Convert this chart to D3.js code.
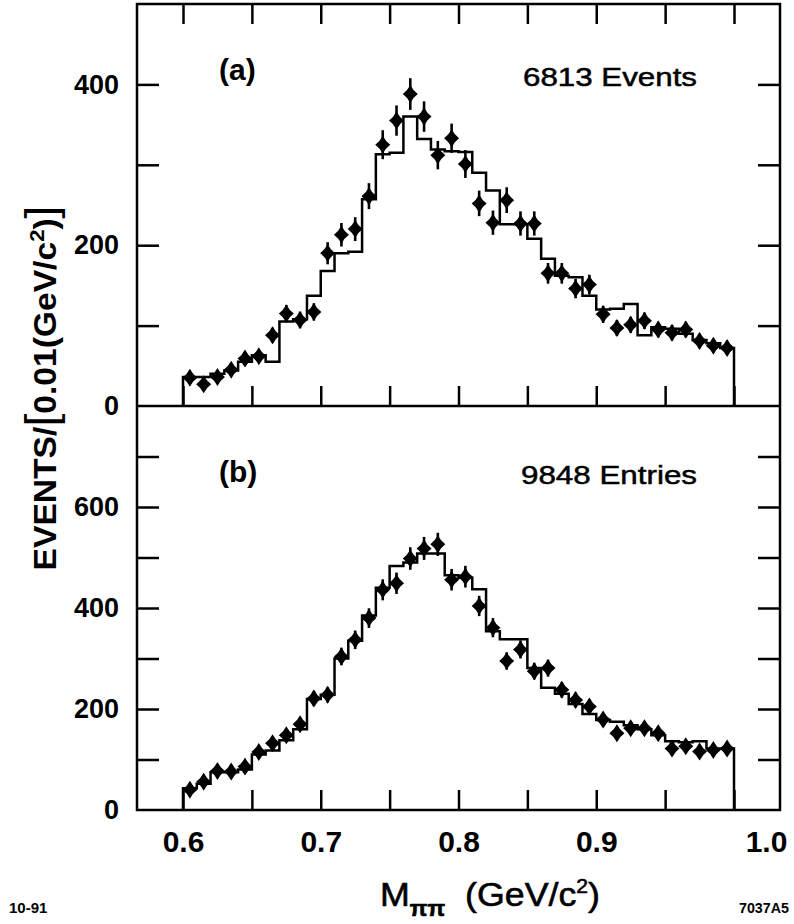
<!DOCTYPE html>
<html>
<head>
<meta charset="utf-8">
<script src="https://cdn.jsdelivr.net/npm/d3@7"></script>
<style>
body{margin:0;background:#fff}
svg{display:block}
text{font-family:"Liberation Sans",Arial,Helvetica,sans-serif;fill:#000}
</style>
</head>
<body>
<div id="chart"></div>
<script>

/****** data: 0.01 GeV/c^2 bins from 0.60 to 1.00 ******/
var binLow = [0.60,0.61,0.62,0.63,0.64,0.65,0.66,0.67,0.68,0.69,
              0.70,0.71,0.72,0.73,0.74,0.75,0.76,0.77,0.78,0.79,
              0.80,0.81,0.82,0.83,0.84,0.85,0.86,0.87,0.88,0.89,
              0.90,0.91,0.92,0.93,0.94,0.95,0.96,0.97,0.98,0.99];

// panel (a) data points and histogram
var eventsA = [35,27,36,45,59,62,88,115,107,117,
               190,213,220,261,325,355,388,360,312,333,
               301,252,228,256,227,227,165,165,146,151,
               114,97,101,106,95,91,95,81,75,72];
var histA = [36,36,40,44,55,63,55,105,108,137,
             168,190,192,257,313,315,360,332,319,317,
             316,290,268,226,226,208,183,162,160,137,
             120,121,127,88,98,96,90,82,78,72];

// panel (b)
var entriesB = [40,56,77,76,86,115,132,148,170,221,
                228,304,337,380,436,449,498,518,526,456,
                462,404,361,295,318,275,281,238,218,205,
                179,152,162,162,152,122,126,116,119,122];
var histB = [43,52,75,75,80,110,118,138,160,220,
             228,300,335,385,440,483,490,508,508,465,
             460,437,354,338,338,281,242,230,210,190,
             178,175,168,160,148,136,134,136,122,122];

var xTicks = [0.6,0.65,0.7,0.75,0.8,0.85,0.9,0.95,1.0];
var xLabels = [0.6,0.7,0.8,0.9,1.0];
var yTicksA = [100,200,300,400];
var yLabelsA = [0,200,400];
var yTicksB = [100,200,300,400,500,600,700];
var yLabelsB = [0,200,400,600];

/****** layout ******/
var W = 794, H = 924;
var frameL = 137, frameR = 780, frameT = 4, frameM = 406, frameB = 810;
var lw = 2.5;

var x = d3.scaleLinear().domain([0.6,1.0]).range([183,734]);
var yA = d3.scaleLinear().domain([0,500]).range([frameM,frameT]);
var yB = d3.scaleLinear().domain([0,800]).range([frameB,frameM]);
var binW = 0.01;

var svg = d3.select("#chart").append("svg")
    .attr("width", W)
    .attr("height", H);

// diamond marker, slightly pinched sides
var diamond = {
    draw: function(ctx, size) {
        var w = 7.5, h = 9, c = 2.8, d = 3.4;
        ctx.moveTo(0,-h);
        ctx.quadraticCurveTo(c,-d,w,0);
        ctx.quadraticCurveTo(c,d,0,h);
        ctx.quadraticCurveTo(-c,d,-w,0);
        ctx.quadraticCurveTo(-c,-d,0,-h);
        ctx.closePath();
    }
};

function tickStyle(g) {
    g.select(".domain").remove();
    g.selectAll(".tick line").attr("stroke","#000").attr("stroke-width",lw);
}

function drawPanel(y, pts, hist, yTicks, yLabels, topTicks) {
    var g = svg.append("g");

    // histogram (step line)
    var steps = [[binLow[0],0]];
    binLow.forEach(function(b,i){ steps.push([b,hist[i]]); });
    steps.push([x.domain()[1], hist[hist.length-1]]);
    steps.push([x.domain()[1], 0]);
    var line = d3.line()
        .x(function(d){return x(d[0]);})
        .y(function(d){return y(d[1]);})
        .curve(d3.curveStepAfter);
    g.append("path")
        .attr("d", line(steps))
        .attr("fill","none")
        .attr("stroke","#000")
        .attr("stroke-width",lw)
        .attr("stroke-linejoin","miter");

    // error bars
    g.selectAll(".err").data(pts).enter().append("line")
        .attr("class","err")
        .attr("x1", function(d,i){return x(binLow[i]+binW/2);})
        .attr("x2", function(d,i){return x(binLow[i]+binW/2);})
        .attr("y1", function(d){return y(d+Math.sqrt(d));})
        .attr("y2", function(d){return y(d-Math.sqrt(d));})
        .attr("stroke","#000")
        .attr("stroke-width",2.6);

    // points
    g.selectAll(".pt").data(pts).enter().append("path")
        .attr("class","pt")
        .attr("d", d3.symbol().type(diamond)())
        .attr("transform", function(d,i){
            return "translate(" + x(binLow[i]+binW/2) + "," + y(d) + ")";
        })
        .attr("fill","#000");

    // inward ticks
    svg.append("g").attr("transform","translate("+frameL+",0)")
        .call(d3.axisLeft(y).tickValues(yTicks).tickSize(-22).tickFormat(""))
        .call(tickStyle);
    svg.append("g").attr("transform","translate("+frameR+",0)")
        .call(d3.axisRight(y).tickValues(yTicks).tickSize(-22).tickFormat(""))
        .call(tickStyle);
    svg.append("g").attr("transform","translate(0,"+y.range()[0]+")")
        .call(d3.axisBottom(x).tickValues(xTicks).tickSize(-20).tickFormat(""))
        .call(tickStyle);
    if (topTicks) {
        svg.append("g").attr("transform","translate(0,"+y.range()[1]+")")
            .call(d3.axisTop(x).tickValues(xTicks).tickSize(-20).tickFormat(""))
            .call(tickStyle);
    }

    // y labels
    var ax = svg.append("g").attr("transform","translate("+frameL+",0)")
        .call(d3.axisLeft(y).tickValues(yLabels).tickSize(0).tickPadding(18));
    ax.select(".domain").remove();
    ax.selectAll("text")
        .attr("font-family",null)
        .style("font-size","27px")
        .style("font-weight","bold");
}

drawPanel(yA, eventsA, histA, yTicksA, yLabelsA, true);
drawPanel(yB, entriesB, histB, yTicksB, yLabelsB, false);

// frame
svg.append("rect")
    .attr("x",frameL).attr("y",frameT)
    .attr("width",frameR-frameL).attr("height",frameB-frameT)
    .attr("fill","none").attr("stroke","#000").attr("stroke-width",lw);
svg.append("line")
    .attr("x1",frameL).attr("x2",frameR).attr("y1",frameM).attr("y2",frameM)
    .attr("stroke","#000").attr("stroke-width",lw);

// x labels
var xa = svg.append("g").attr("transform","translate(0,"+frameB+")")
    .call(d3.axisBottom(x).tickValues(xLabels).tickSize(0).tickPadding(21)
        .tickFormat(d3.format(".1f")));
xa.select(".domain").remove();
xa.selectAll("text")
    .attr("font-family",null)
    .style("font-size","30px")
    .style("font-weight","bold");
// the 1.0 label sits right of its tick in the original
xa.selectAll("text").filter(function(d){return d===1.0;}).attr("x",32);

// panel annotations
function note(txt, px, py, size, weight, len) {
    var t = svg.append("text")
        .attr("x",px).attr("y",py)
        .style("font-size",size+"px")
        .style("font-weight",weight)
        .text(txt);
    if (len) t.attr("textLength",len).attr("lengthAdjust","spacingAndGlyphs");
    return t;
}
note("(a)", 219, 80, 30, "bold");
note("(b)", 219, 482, 30, "bold");
note("6813 Events", 523, 86, 26, "normal", 174).attr("stroke","#000").attr("stroke-width",0.5);
note("9848 Entries", 521, 484, 26, "normal", 176).attr("stroke","#000").attr("stroke-width",0.5);
note("10-91", 9, 913, 15, "bold");
note("7037A5", 739, 913, 14, "bold").attr("textLength",50).attr("lengthAdjust","spacingAndGlyphs");

// y title
var yt = svg.append("g").attr("transform","translate(56,388) rotate(-90)");
var ytText = yt.append("text")
    .attr("text-anchor","middle")
    .style("font-size","32px")
    .style("font-weight","bold");
ytText.append("tspan").text("EVENTS/");
ytText.append("tspan").style("font-size","44px").style("font-weight","normal").text("[");
ytText.append("tspan").text("0.01(GeV/c");
ytText.append("tspan").attr("dy",-12).style("font-size","21px").text("2");
ytText.append("tspan").attr("dy",12).text(")");
ytText.append("tspan").style("font-size","44px").style("font-weight","normal").text("]");
var yLen = ytText.node().getComputedTextLength();
ytText.attr("transform","scale(" + (365/yLen) + ",1)");

// x title
var xt = svg.append("g").attr("transform","translate(490,906)");
var xtText = xt.append("text")
    .attr("text-anchor","middle")
    .attr("stroke","#000").attr("stroke-width",0.6)
    .style("font-size","34px");
xtText.append("tspan").text("M");
xtText.append("tspan").attr("dy",10).style("font-size","22px").style("font-weight","bold").text("\u03c0\u03c0");
xtText.append("tspan").attr("dy",-10).text("\u00a0\u00a0(GeV/c");
xtText.append("tspan").attr("dy",-13).style("font-size","20px").text("2");
xtText.append("tspan").attr("dy",13).text(")");
var xLen = xtText.node().getComputedTextLength();
xtText.attr("transform","scale(" + (220/xLen) + ",1)");

</script>
</body>
</html>
